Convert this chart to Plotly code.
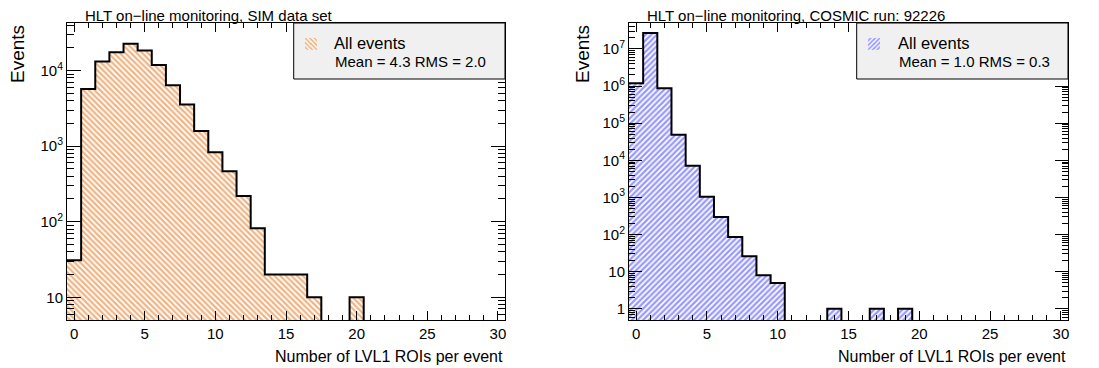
import plotly.graph_objects as go
import math

# ---------------- data ----------------
bin_centers = list(range(0, 31))
sim_counts = [31, 5690, 13150, 17500, 22700, 18400, 11900, 6400, 3560, 1590,
              830, 464, 219, 82, 20, 20, 20, 10, 0, 0,
              10, 0, 0, 0, 0, 0, 0, 0, 0, 0, 0]
cosmic_counts = [1200000, 27000000, 880000, 49000, 7200, 1050, 298, 86, 26, 8,
                 5, 0, 0, 0, 1, 0, 0, 1, 0, 1,
                 0, 0, 0, 0, 0, 0, 0, 0, 0, 0, 0]

sim_title = "HLT on\u2212line monitoring, SIM data set"
cosmic_title = "HLT on\u2212line monitoring, COSMIC run: 92226"
sim_legend = ["All events", "Mean = 4.3 RMS = 2.0"]
cosmic_legend = ["All events", "Mean = 1.0 RMS = 0.3"]
x_title = "Number of LVL1 ROIs per event"
y_title = "Events"

x_ticks = [0, 5, 10, 15, 20, 25, 30]
sim_yticks = [10, 100, 1000, 10000]
sim_yticktext = ["10", "10<sup>2</sup>", "10<sup>3</sup>", "10<sup>4</sup>"]
cosmic_yticks = [1, 10, 100, 1000, 10000, 100000, 1000000, 10000000]
cosmic_yticktext = ["1", "10", "10<sup>2</sup>", "10<sup>3</sup>", "10<sup>4</sup>",
                    "10<sup>5</sup>", "10<sup>6</sup>", "10<sup>7</sup>"]

sim_yrange = [math.log10(5), 4.63]
cosmic_yrange = [math.log10(0.5), 7.70]
x_range = [-0.5, 30.5]

ORANGE = "#e06a0a"
BLUE = "#3030ff"
FONT = "Liberation Sans, Arial, Helvetica, sans-serif"

W, H = 1099, 368
left_dom = [67 / W, 505 / W]
right_dom = [629 / W, 1068 / W]
y_dom = [(H - 320) / H, (H - 23) / H]
PLOT_H = 297.0

fig = go.Figure()


def add_hist(counts, xa, ya, color, shape, yrange, legend_name):
    fig.add_trace(go.Bar(
        x=bin_centers, y=counts, width=1.0, xaxis=xa, yaxis=ya,
        marker=dict(color="white", line=dict(width=0),
                    pattern=dict(shape=shape, fgcolor=color, bgcolor="white",
                                 size=4, solidity=0.55)),
        name=" ", legend=legend_name, showlegend=True,
    ))
    floor = 10 ** (yrange[0] - 2)
    edges = [c - 0.5 for c in bin_centers] + [bin_centers[-1] + 0.5]
    vals = [v if v > 0 else floor for v in counts]
    vals = vals + [vals[-1]]
    fig.add_trace(go.Scatter(
        x=edges, y=vals, mode="lines", line=dict(shape="hv", color="black", width=2),
        xaxis=xa, yaxis=ya, showlegend=False, hoverinfo="skip",
    ))


add_hist(sim_counts, "x", "y", ORANGE, "\\", sim_yrange, "legend")
add_hist(cosmic_counts, "x2", "y2", BLUE, "/", cosmic_yrange, "legend2")

tickfont = dict(size=15, color="black", family=FONT)
major = dict(showline=True, linecolor="black", linewidth=1, mirror="allticks",
             ticks="inside", showgrid=False, zeroline=False, tickfont=tickfont,
             tickcolor="black", tickwidth=1, layer="above traces")
x_minor = dict(ticks="inside", dtick=1, tick0=0, ticklen=5, tickcolor="black",
               tickwidth=1, showgrid=False)

fig.update_layout(
    xaxis=dict(domain=left_dom, anchor="y", range=x_range, tickmode="array",
               tickvals=x_ticks, ticklen=9, minor=x_minor, **major),
    yaxis=dict(domain=y_dom, anchor="x", type="log", range=sim_yrange, tickmode="array",
               tickvals=sim_yticks, ticktext=sim_yticktext, ticklen=14,
               minor=dict(ticks="inside", dtick="D1", ticklen=7, tickcolor="black",
                          tickwidth=1, showgrid=False),
               **major),
    xaxis2=dict(domain=right_dom, anchor="y2", range=x_range, tickmode="array",
                tickvals=x_ticks, ticklen=9, minor=x_minor, **major),
    yaxis2=dict(domain=y_dom, anchor="x2", type="log", range=cosmic_yrange, tickmode="array",
                tickvals=cosmic_yticks, ticktext=cosmic_yticktext, ticklen=13,
                minor=dict(ticks="inside", dtick="D1", ticklen=6, tickcolor="black",
                           tickwidth=1, showgrid=False),
                **major),
    width=W, height=H, margin=dict(l=0, r=0, t=0, b=0),
    paper_bgcolor="white", plot_bgcolor="white",
    font=dict(family=FONT, color="black"),
    bargap=0,
    legend=dict(x=291 / W, y=(H - 27) / H, xanchor="left", yanchor="top",
                bgcolor="rgba(0,0,0,0)", borderwidth=0, font=dict(size=16, family=FONT),
                valign="middle", tracegroupgap=0, itemwidth=30),
    legend2=dict(x=854 / W, y=(H - 27) / H, xanchor="left", yanchor="top",
                 bgcolor="rgba(0,0,0,0)", borderwidth=0, font=dict(size=16, family=FONT),
                 valign="middle", tracegroupgap=0, itemwidth=30),
)

# legend boxes
fig.add_shape(type="rect", xref="x domain", yref="y domain",
              x0=(293.7 - 67) / 438, x1=1.0, y0=1 - (79 - 23) / PLOT_H, y1=1.0,
              fillcolor="#f0f0f0", line=dict(color="black", width=1), layer="above")
fig.add_shape(type="rect", xref="x2 domain", yref="y2 domain",
              x0=(856.7 - 629) / 439, x1=1.0, y0=1 - (79 - 23) / PLOT_H, y1=1.0,
              fillcolor="#f0f0f0", line=dict(color="black", width=1), layer="above")

# legend texts
for xpos, lines in [(332, sim_legend), (896, cosmic_legend)]:
    fig.add_annotation(x=xpos / W, y=(H - 43) / H, xref="paper", yref="paper",
                       xanchor="left", yanchor="middle", showarrow=False, text=lines[0],
                       font=dict(size=16.5, family=FONT, color="black"))
    fig.add_annotation(x=(xpos + 1) / W, y=(H - 61) / H, xref="paper", yref="paper",
                       xanchor="left", yanchor="middle", showarrow=False, text=lines[1],
                       font=dict(size=15, family=FONT, color="black"))

# titles
for xpos, text in [(83, sim_title), (645, cosmic_title)]:
    fig.add_annotation(x=xpos / W, y=(H - 15) / H, xref="paper", yref="paper",
                       xanchor="left", yanchor="middle", showarrow=False, text=text,
                       font=dict(size=15, family=FONT, color="black"))

# y titles
for xpos in [17, 582]:
    fig.add_annotation(x=xpos / W, y=(H - 23) / H, xref="paper", yref="paper",
                       xanchor="center", yanchor="top", showarrow=False, text=y_title,
                       textangle=-90, font=dict(size=19, family=FONT, color="black"))

# x titles
for xpos in [505, 1068]:
    fig.add_annotation(x=xpos / W, y=(H - 356) / H, xref="paper", yref="paper",
                       xanchor="right", yanchor="middle", showarrow=False, text=x_title,
                       font=dict(size=16, family=FONT, color="black"))

fig.write_html("out.html")
